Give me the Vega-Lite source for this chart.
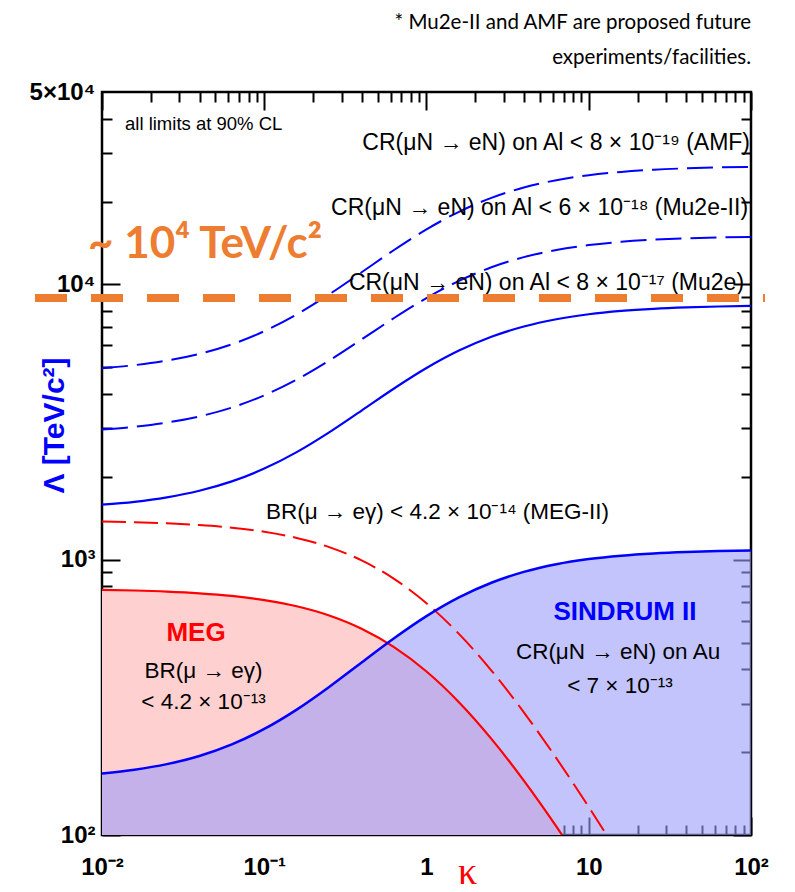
{
  "$schema": "https://vega.github.io/schema/vega-lite/v6.json",
  "width": 649,
  "height": 743,
  "autosize": "none",
  "padding": {"left": 102, "top": 92, "right": 44, "bottom": 57},
  "background": "white",
  "config": {
    "view": {"stroke": "black", "strokeWidth": 2.5},
    "axis": {"grid": false, "domain": false, "tickColor": "black", "tickWidth": 2}
  },
  "title": {
    "text": ["* Mu2e-II and AMF are proposed future", "experiments/facilities."],
    "anchor": "end",
    "align": "right",
    "font": "Lato",
    "fontSize": 20.5,
    "fontWeight": "normal",
    "color": "black",
    "lineHeight": 35,
    "offset": 12,
    "frame": "group"
  },
  "datasets": {
    "curves": [
      {"s": "Mu2e", "k": 0.01, "v": 1584}, {"s": "Mu2e", "k": 0.01585, "v": 1623}, {"s": "Mu2e", "k": 0.02512, "v": 1685}, {"s": "Mu2e", "k": 0.03981, "v": 1780}, {"s": "Mu2e", "k": 0.0631, "v": 1925}, {"s": "Mu2e", "k": 0.1, "v": 2143}, {"s": "Mu2e", "k": 0.1585, "v": 2460}, {"s": "Mu2e", "k": 0.2512, "v": 2902}, {"s": "Mu2e", "k": 0.3981, "v": 3482}, {"s": "Mu2e", "k": 0.631, "v": 4187}, {"s": "Mu2e", "k": 1, "v": 4968}, {"s": "Mu2e", "k": 1.585, "v": 5749}, {"s": "Mu2e", "k": 2.512, "v": 6454}, {"s": "Mu2e", "k": 3.981, "v": 7034}, {"s": "Mu2e", "k": 6.31, "v": 7475}, {"s": "Mu2e", "k": 10, "v": 7792}, {"s": "Mu2e", "k": 15.85, "v": 8010}, {"s": "Mu2e", "k": 25.12, "v": 8156}, {"s": "Mu2e", "k": 39.81, "v": 8251}, {"s": "Mu2e", "k": 63.1, "v": 8312}, {"s": "Mu2e", "k": 100, "v": 8352},
      {"s": "Mu2eII", "k": 0.01, "v": 2970}, {"s": "Mu2eII", "k": 0.01585, "v": 3040}, {"s": "Mu2eII", "k": 0.02512, "v": 3148}, {"s": "Mu2eII", "k": 0.03981, "v": 3315}, {"s": "Mu2eII", "k": 0.0631, "v": 3571}, {"s": "Mu2eII", "k": 0.1, "v": 3955}, {"s": "Mu2eII", "k": 0.1585, "v": 4512}, {"s": "Mu2eII", "k": 0.2512, "v": 5289}, {"s": "Mu2eII", "k": 0.3981, "v": 6310}, {"s": "Mu2eII", "k": 0.631, "v": 7551}, {"s": "Mu2eII", "k": 1, "v": 8925}, {"s": "Mu2eII", "k": 1.585, "v": 10300}, {"s": "Mu2eII", "k": 2.512, "v": 11540}, {"s": "Mu2eII", "k": 3.981, "v": 12561}, {"s": "Mu2eII", "k": 6.31, "v": 13338}, {"s": "Mu2eII", "k": 10, "v": 13895}, {"s": "Mu2eII", "k": 15.85, "v": 14279}, {"s": "Mu2eII", "k": 25.12, "v": 14535}, {"s": "Mu2eII", "k": 39.81, "v": 14702}, {"s": "Mu2eII", "k": 63.1, "v": 14811}, {"s": "Mu2eII", "k": 100, "v": 14880},
      {"s": "AMF", "k": 0.01, "v": 4963}, {"s": "AMF", "k": 0.01585, "v": 5090}, {"s": "AMF", "k": 0.02512, "v": 5287}, {"s": "AMF", "k": 0.03981, "v": 5594}, {"s": "AMF", "k": 0.0631, "v": 6061}, {"s": "AMF", "k": 0.1, "v": 6762}, {"s": "AMF", "k": 0.1585, "v": 7781}, {"s": "AMF", "k": 0.2512, "v": 9201}, {"s": "AMF", "k": 0.3981, "v": 11067}, {"s": "AMF", "k": 0.631, "v": 13334}, {"s": "AMF", "k": 1, "v": 15847}, {"s": "AMF", "k": 1.585, "v": 18359}, {"s": "AMF", "k": 2.512, "v": 20627}, {"s": "AMF", "k": 3.981, "v": 22492}, {"s": "AMF", "k": 6.31, "v": 23912}, {"s": "AMF", "k": 10, "v": 24931}, {"s": "AMF", "k": 15.85, "v": 25632}, {"s": "AMF", "k": 25.12, "v": 26100}, {"s": "AMF", "k": 39.81, "v": 26406}, {"s": "AMF", "k": 63.1, "v": 26604}, {"s": "AMF", "k": 100, "v": 26730},
      {"s": "SIND", "k": 0.01, "v": 167.3}, {"s": "SIND", "k": 0.01585, "v": 172.6}, {"s": "SIND", "k": 0.02512, "v": 180.9}, {"s": "SIND", "k": 0.03981, "v": 193.7}, {"s": "SIND", "k": 0.0631, "v": 213.4}, {"s": "SIND", "k": 0.1, "v": 242.8}, {"s": "SIND", "k": 0.1585, "v": 285.5}, {"s": "SIND", "k": 0.2512, "v": 345.1}, {"s": "SIND", "k": 0.3981, "v": 423.4}, {"s": "SIND", "k": 0.631, "v": 518.6}, {"s": "SIND", "k": 1, "v": 624.0}, {"s": "SIND", "k": 1.585, "v": 729.5}, {"s": "SIND", "k": 2.512, "v": 824.6}, {"s": "SIND", "k": 3.981, "v": 902.9}, {"s": "SIND", "k": 6.31, "v": 962.5}, {"s": "SIND", "k": 10, "v": 1005.3}, {"s": "SIND", "k": 15.85, "v": 1034.7}, {"s": "SIND", "k": 25.12, "v": 1054.3}, {"s": "SIND", "k": 39.81, "v": 1067.2}, {"s": "SIND", "k": 63.1, "v": 1075.5}, {"s": "SIND", "k": 100, "v": 1080.8},
      {"s": "MEG", "k": 0.01, "v": 777.2}, {"s": "MEG", "k": 0.01585, "v": 772.8}, {"s": "MEG", "k": 0.02512, "v": 765.8}, {"s": "MEG", "k": 0.03981, "v": 754.9}, {"s": "MEG", "k": 0.0631, "v": 738.4}, {"s": "MEG", "k": 0.1, "v": 713.6}, {"s": "MEG", "k": 0.1585, "v": 677.6}, {"s": "MEG", "k": 0.2512, "v": 627.4}, {"s": "MEG", "k": 0.3981, "v": 561.5}, {"s": "MEG", "k": 0.631, "v": 481.3}, {"s": "MEG", "k": 1, "v": 392.5}, {"s": "MEG", "k": 1.585, "v": 303.7}, {"s": "MEG", "k": 2.512, "v": 223.5}, {"s": "MEG", "k": 3.981, "v": 157.6}, {"s": "MEG", "k": 6.31, "v": 107.4}, {"s": "MEG", "k": 6.85, "v": 100},
      {"s": "MEGII", "k": 0.01, "v": 1376.2}, {"s": "MEGII", "k": 0.01585, "v": 1368.3}, {"s": "MEGII", "k": 0.02512, "v": 1355.9}, {"s": "MEGII", "k": 0.03981, "v": 1336.8}, {"s": "MEGII", "k": 0.0631, "v": 1307.5}, {"s": "MEGII", "k": 0.1, "v": 1263.6}, {"s": "MEGII", "k": 0.1585, "v": 1199.8}, {"s": "MEGII", "k": 0.2512, "v": 1110.9}, {"s": "MEGII", "k": 0.3981, "v": 994.2}, {"s": "MEGII", "k": 0.631, "v": 852.3}, {"s": "MEGII", "k": 1, "v": 695.0}, {"s": "MEGII", "k": 1.585, "v": 537.7}, {"s": "MEGII", "k": 2.512, "v": 395.8}, {"s": "MEGII", "k": 3.981, "v": 279.1}, {"s": "MEGII", "k": 6.31, "v": 190.2}, {"s": "MEGII", "k": 10, "v": 126.4}, {"s": "MEGII", "k": 12.9, "v": 100}
    ]
  },
  "data": {"name": "curves"},
  "encoding": {
    "x": {"field": "k", "type": "quantitative", "scale": {"type": "log", "domain": [0.01, 100]}, "axis": null},
    "y": {"field": "v", "type": "quantitative", "scale": {"type": "log", "domain": [100, 50000]}, "axis": null}
  },
  "layer": [
    {
      "transform": [{"filter": "datum.s === 'MEG'"}],
      "mark": {"type": "area", "color": "#ffd0d0", "interpolate": "monotone", "clip": true},
      "encoding": {
        "x": {"field": "k", "type": "quantitative", "scale": {"type": "log", "domain": [0.01, 100]},
          "axis": {"orient": "bottom", "values": [0.01, 0.1, 1, 10, 100], "ticks": false, "labelPadding": 20,
            "labelFont": "Liberation Sans", "labelFontWeight": "bold", "labelFontSize": 24, "labelColor": "black",
            "labelExpr": "datum.value < 0.05 ? '10⁻²' : datum.value < 0.5 ? '10⁻¹' : datum.value < 5 ? '1' : datum.value < 50 ? '10' : '10²'",
            "labelFlush": false, "labelOverlap": false, "labelBound": false,
            "title": "κ", "titleFont": "Liberation Serif", "titleFontSize": 38, "titleColor": "#ff0000", "titleFontWeight": "normal",
            "titleX": 365, "titleY": 48, "titleBaseline": "alphabetic", "titleAlign": "center"}},
        "y": {"field": "v", "type": "quantitative", "scale": {"type": "log", "domain": [100, 50000]},
          "axis": {"orient": "left", "values": [100, 1000, 10000, 50000], "ticks": false, "labelPadding": 7,
            "labelFont": "Liberation Sans", "labelFontWeight": "bold", "labelFontSize": 24, "labelColor": "black",
            "labelExpr": "datum.value < 500 ? '10²' : datum.value < 5000 ? '10³' : datum.value < 20000 ? '10⁴' : '5×10⁴'",
            "labelFlush": false, "labelOverlap": false, "labelBound": false,
            "title": "Λ [TeV/c²]", "titleFont": "Liberation Sans", "titleFontSize": 30, "titleColor": "#0000ff", "titleFontWeight": "bold",
            "titleX": -48, "titleY": 333, "titleBaseline": "middle", "titleAngle": -90, "titleAlign": "center"}},
        "y2": {"datum": 100}
      }
    },
    {
      "transform": [{"filter": "datum.s === 'SIND'"}],
      "mark": {"type": "area", "color": "#9d9dfa", "opacity": 0.6, "interpolate": "monotone", "clip": true},
      "encoding": {
        "x": {"field": "k", "type": "quantitative", "scale": {"type": "log", "domain": [0.01, 100]},
          "axis": {"orient": "bottom", "values": [0.01, 0.1, 1, 10, 100], "labels": false, "tickSize": -18, "title": null}},
        "y": {"field": "v", "type": "quantitative", "scale": {"type": "log", "domain": [100, 50000]},
          "axis": {"orient": "left", "values": [100, 1000, 10000], "labels": false, "tickSize": -18, "title": null}},
        "y2": {"datum": 100}
      }
    },
    {
      "transform": [{"filter": "datum.s === 'MEG'"}],
      "mark": {"type": "line", "color": "#ff0000", "strokeWidth": 2.2, "interpolate": "monotone", "clip": true},
      "encoding": {
        "x": {"field": "k", "type": "quantitative", "scale": {"type": "log", "domain": [0.01, 100]},
          "axis": {"orient": "bottom", "values": [0.02, 0.03, 0.04, 0.05, 0.06, 0.07, 0.08, 0.09, 0.2, 0.3, 0.4, 0.5, 0.6, 0.7, 0.8, 0.9, 2, 3, 4, 5, 6, 7, 8, 9, 20, 30, 40, 50, 60, 70, 80, 90], "labels": false, "tickSize": -10, "title": null}},
        "y": {"field": "v", "type": "quantitative", "scale": {"type": "log", "domain": [100, 50000]},
          "axis": {"orient": "left", "values": [200, 300, 400, 500, 600, 700, 800, 900, 2000, 3000, 4000, 5000, 6000, 7000, 8000, 9000, 20000, 30000, 40000], "labels": false, "tickSize": -10, "title": null}}
      }
    },
    {
      "transform": [{"filter": "datum.s === 'MEGII'"}],
      "mark": {"type": "line", "color": "#ff0000", "strokeWidth": 2, "strokeDash": [24, 8], "interpolate": "monotone", "clip": true},
      "encoding": {
        "x": {"field": "k", "type": "quantitative", "scale": {"type": "log", "domain": [0.01, 100]},
          "axis": {"orient": "top", "values": [0.01, 0.1, 1, 10, 100], "labels": false, "tickSize": -18, "title": null}},
        "y": {"field": "v", "type": "quantitative", "scale": {"type": "log", "domain": [100, 50000]},
          "axis": {"orient": "right", "values": [100, 1000, 10000], "labels": false, "tickSize": -18, "title": null}}
      }
    },
    {
      "transform": [{"filter": "datum.s === 'SIND'"}],
      "mark": {"type": "line", "color": "#0000ff", "strokeWidth": 2.5, "interpolate": "monotone", "clip": true},
      "encoding": {
        "x": {"field": "k", "type": "quantitative", "scale": {"type": "log", "domain": [0.01, 100]},
          "axis": {"orient": "top", "values": [0.02, 0.03, 0.04, 0.05, 0.06, 0.07, 0.08, 0.09, 0.2, 0.3, 0.4, 0.5, 0.6, 0.7, 0.8, 0.9, 2, 3, 4, 5, 6, 7, 8, 9, 20, 30, 40, 50, 60, 70, 80, 90], "labels": false, "tickSize": -10, "title": null}},
        "y": {"field": "v", "type": "quantitative", "scale": {"type": "log", "domain": [100, 50000]},
          "axis": {"orient": "right", "values": [200, 300, 400, 500, 600, 700, 800, 900, 2000, 3000, 4000, 5000, 6000, 7000, 8000, 9000, 20000, 30000, 40000], "labels": false, "tickSize": -10, "title": null}}
      }
    },
    {
      "transform": [{"filter": "datum.s === 'Mu2e'"}],
      "mark": {"type": "line", "color": "#0000ff", "strokeWidth": 2.2, "interpolate": "monotone", "clip": true}
    },
    {
      "transform": [{"filter": "datum.s === 'Mu2eII'"}],
      "mark": {"type": "line", "color": "#0000ff", "strokeWidth": 2, "strokeDash": [26, 9], "interpolate": "monotone", "clip": true}
    },
    {
      "transform": [{"filter": "datum.s === 'AMF'"}],
      "mark": {"type": "line", "color": "#0000ff", "strokeWidth": 2, "strokeDash": [26, 9], "interpolate": "monotone", "clip": true}
    },
    {
      "data": {"values": [
        {"k": 1.169, "v": 1490, "t": "BR(μ → eγ) < 4.2 × 10⁻¹⁴ (MEG-II)"},
        {"k": 0.04222, "v": 394, "t": "BR(μ → eγ)"},
        {"k": 0.0422, "v": 304, "t": "< 4.2 × 10⁻¹³"},
        {"k": 15.15, "v": 462, "t": "CR(μN → eN) on Au"},
        {"k": 15.58, "v": 348, "t": "< 7 × 10⁻¹³"}
      ]},
      "mark": {"type": "text", "font": "Liberation Sans", "fontSize": 22.5, "color": "black", "align": "center", "baseline": "middle"},
      "encoding": {"text": {"field": "t"}}
    },
    {
      "data": {"values": [
        {"k": 98.6, "v": 32620, "t": "CR(μN → eN) on Al < 8 × 10⁻¹⁹ (AMF)"},
        {"k": 95.9, "v": 18950, "t": "CR(μN → eN) on Al < 6 × 10⁻¹⁸ (Mu2e-II)"},
        {"k": 90.6, "v": 10120, "t": "CR(μN → eN) on Al < 8 × 10⁻¹⁷ (Mu2e)"}
      ]},
      "mark": {"type": "text", "font": "Liberation Sans", "fontSize": 23, "color": "black", "align": "right", "baseline": "middle"},
      "encoding": {"text": {"field": "t"}}
    },
    {
      "data": {"values": [{"k": 0.01386, "v": 38250, "t": "all limits at 90% CL"}]},
      "mark": {"type": "text", "font": "Liberation Sans", "fontSize": 18.5, "color": "black", "align": "left", "baseline": "middle"},
      "encoding": {"text": {"field": "t"}}
    },
    {
      "data": {"values": [{"k": 0.03797, "v": 541.7, "t": "MEG"}]},
      "mark": {"type": "text", "font": "Liberation Sans", "fontSize": 26, "fontWeight": "bold", "color": "#ff0000", "align": "center", "baseline": "middle"},
      "encoding": {"text": {"field": "t"}}
    },
    {
      "data": {"values": [{"k": 16.73, "v": 645.7, "t": "SINDRUM II"}]},
      "mark": {"type": "text", "font": "Liberation Sans", "fontSize": 26, "fontWeight": "bold", "color": "#0000ff", "align": "center", "baseline": "middle"},
      "encoding": {"text": {"field": "t"}}
    },
    {
      "data": {"values": [{"from": 0.003864, "to": 122, "v": 8930}]},
      "mark": {"type": "rule", "color": "#ed7d31", "strokeWidth": 8, "strokeDash": [32, 24], "strokeCap": "butt", "clip": false},
      "encoding": {
        "x": {"field": "from", "type": "quantitative", "scale": {"type": "log", "domain": [0.01, 100]}, "axis": null},
        "x2": {"field": "to"},
        "y": {"field": "v", "type": "quantitative", "scale": {"type": "log", "domain": [100, 50000]}, "axis": null}
      }
    },
    {
      "data": {"values": [{"k": 0.0082, "v": 13900, "t": "~ 10⁴ TeV/c²"}]},
      "mark": {"type": "text", "font": "Lato", "fontSize": 44, "fontWeight": "bold", "color": "#ed7d31", "align": "left", "baseline": "middle"},
      "encoding": {"text": {"field": "t"}}
    }
  ],
  "resolve": {"axis": {"x": "independent", "y": "independent"}}
}
